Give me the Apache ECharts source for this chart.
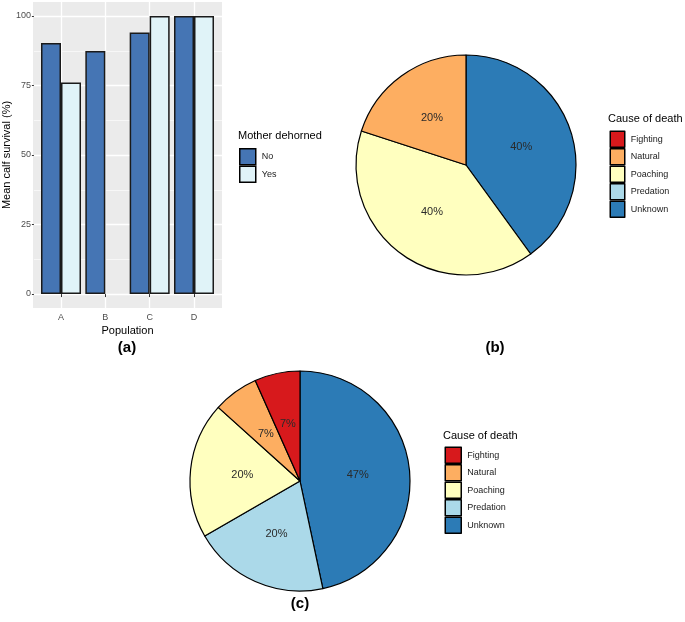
<!DOCTYPE html>
<html><head><meta charset="utf-8">
<script src="https://cdn.jsdelivr.net/npm/echarts@6/dist/echarts.min.js"></script>
<style>html,body{margin:0;padding:0;background:#fff}#c{width:685px;height:622px}</style>
</head><body><div id="c"></div>
<script>
// ---- data ----
const populations = ['A', 'B', 'C', 'D'];
const survivalNo = [90.3, 87.4, 94.0, 100];
const survivalYes = [76.1, null, 100, 100];
const yTickMin = 0, yTickMax = 100, yTickStep = 25;
const causes = ['Fighting', 'Natural', 'Poaching', 'Predation', 'Unknown'];
const causeColors = ['#D7191C', '#FDAE61', '#FFFFBF', '#ABD9E9', '#2C7BB6'];
const pieBNames = ['Unknown', 'Poaching', 'Natural'];
const pieBCounts = [2, 2, 1];
const pieCNames = ['Unknown', 'Predation', 'Poaching', 'Natural', 'Fighting'];
const pieCCounts = [7, 3, 3, 1, 1];

// ---- chart ----
const FONT = '"Liberation Sans", Arial, Helvetica, sans-serif';
const colorOf = n => causeColors[causes.indexOf(n)];
const chart = echarts.init(document.getElementById('c'), null, {renderer: 'canvas'});
const pieLabel = {
  show: true, position: 'inside', fontFamily: FONT, fontSize: 11, color: '#2a2a2a',
  formatter: p => Math.round(p.percent) + '%'
};
const pieData = (names, vals) => names.map((n, i) => ({name: n, value: vals[i], itemStyle: {color: colorOf(n)}}));
const legendBase = {
  orient: 'vertical', icon: 'rect', itemGap: 0, itemWidth: 16, itemHeight: 16, padding: 0,
  textStyle: {fontFamily: FONT, fontSize: 9, color: '#1a1a1a', padding: [0, 0, 0, 1]},
  itemStyle: {borderColor: '#000', borderWidth: 1.5},
  selectedMode: false
};
chart.setOption({
  animation: false,
  textStyle: {fontFamily: FONT},
  grid: [
    {left: 33, top: 2, width: 189, height: 306, show: true, backgroundColor: '#EBEBEB', borderWidth: 0},
    {left: 33, top: 16, width: 189, height: 278, show: false},
    {left: 61, top: 2, width: 133, height: 306, show: false}
  ],
  xAxis: [
    {gridIndex: 0, type: 'value', show: false},
    {gridIndex: 1, type: 'value', show: false},
    {gridIndex: 2, type: 'category', data: populations, boundaryGap: false,
     axisLine: {show: false}, axisTick: {show: true, length: 3, lineStyle: {color: '#333'}},
     axisLabel: {fontSize: 9, color: '#4D4D4D', margin: 5},
     splitLine: {show: true, lineStyle: {color: '#fff', width: 1.3}},
     name: 'Population', nameLocation: 'middle', nameGap: 17,
     nameTextStyle: {fontSize: 11, color: '#000'}}
  ],
  yAxis: [
    {gridIndex: 0, type: 'value', show: false},
    {gridIndex: 1, type: 'value', min: yTickMin, max: yTickMax, interval: yTickStep,
     axisLine: {show: false}, axisTick: {show: true, length: 2, lineStyle: {color: '#333'}},
     axisLabel: {fontSize: 9, color: '#4D4D4D', margin: 3},
     splitLine: {show: true, lineStyle: {color: '#fff', width: 1.3}},
     minorTick: {show: false, splitNumber: 2},
     minorSplitLine: {show: true, lineStyle: {color: '#fff', width: 0.6}},
     name: 'Mean calf survival (%)', nameLocation: 'middle', nameGap: 18, nameRotate: 90,
     nameTextStyle: {fontSize: 11, color: '#000'}},
    {gridIndex: 2, type: 'value', min: yTickMin - 5, max: yTickMax + 5, show: false}
  ],
  legend: [
    Object.assign({}, legendBase, {data: ['No', 'Yes'], left: 239, top: 148}),
    Object.assign({}, legendBase, {data: causes, left: 609.5, top: 130.5, itemWidth: 14.5}),
    Object.assign({}, legendBase, {data: causes, left: 444.5, top: 446.5})
  ],
  series: [
    {name: 'No', type: 'bar', xAxisIndex: 2, yAxisIndex: 2, data: survivalNo, barWidth: 20, barGap: '0%',
     itemStyle: {color: '#4575B4', borderColor: '#1a1a1a', borderWidth: 1.5}},
    {name: 'Yes', type: 'bar', xAxisIndex: 2, yAxisIndex: 2, data: survivalYes, barWidth: 20, barGap: '0%',
     itemStyle: {color: '#E0F3F8', borderColor: '#1a1a1a', borderWidth: 1.5}},
    {name: 'b', type: 'pie', center: [466, 165], radius: 110, startAngle: 90, clockwise: true,
     label: pieLabel, labelLine: {show: false}, emphasis: {disabled: true},
     itemStyle: {borderColor: '#000', borderWidth: 1.2},
     data: pieData(pieBNames, pieBCounts)},
    {name: 'c', type: 'pie', center: [300, 481], radius: 110, startAngle: 90, clockwise: true,
     label: pieLabel, labelLine: {show: false}, emphasis: {disabled: true},
     itemStyle: {borderColor: '#000', borderWidth: 1.2},
     data: pieData(pieCNames, pieCCounts)}
  ],
  graphic: [
    {type: 'text', left: 238, top: 130, style: {text: 'Mother dehorned', font: '11px ' + FONT, fill: '#000'}},
    {type: 'text', left: 608, top: 113, style: {text: 'Cause of death', font: '11px ' + FONT, fill: '#000'}},
    {type: 'text', left: 443, top: 430, style: {text: 'Cause of death', font: '11px ' + FONT, fill: '#000'}},
    {type: 'text', x: 127, y: 348, style: {text: '(a)', font: 'bold 15px ' + FONT, fill: '#000', align: 'center', verticalAlign: 'middle'}},
    {type: 'text', x: 495, y: 348, style: {text: '(b)', font: 'bold 15px ' + FONT, fill: '#000', align: 'center', verticalAlign: 'middle'}},
    {type: 'text', x: 300, y: 604, style: {text: '(c)', font: 'bold 15px ' + FONT, fill: '#000', align: 'center', verticalAlign: 'middle'}}
  ]
});
</script></body></html>
